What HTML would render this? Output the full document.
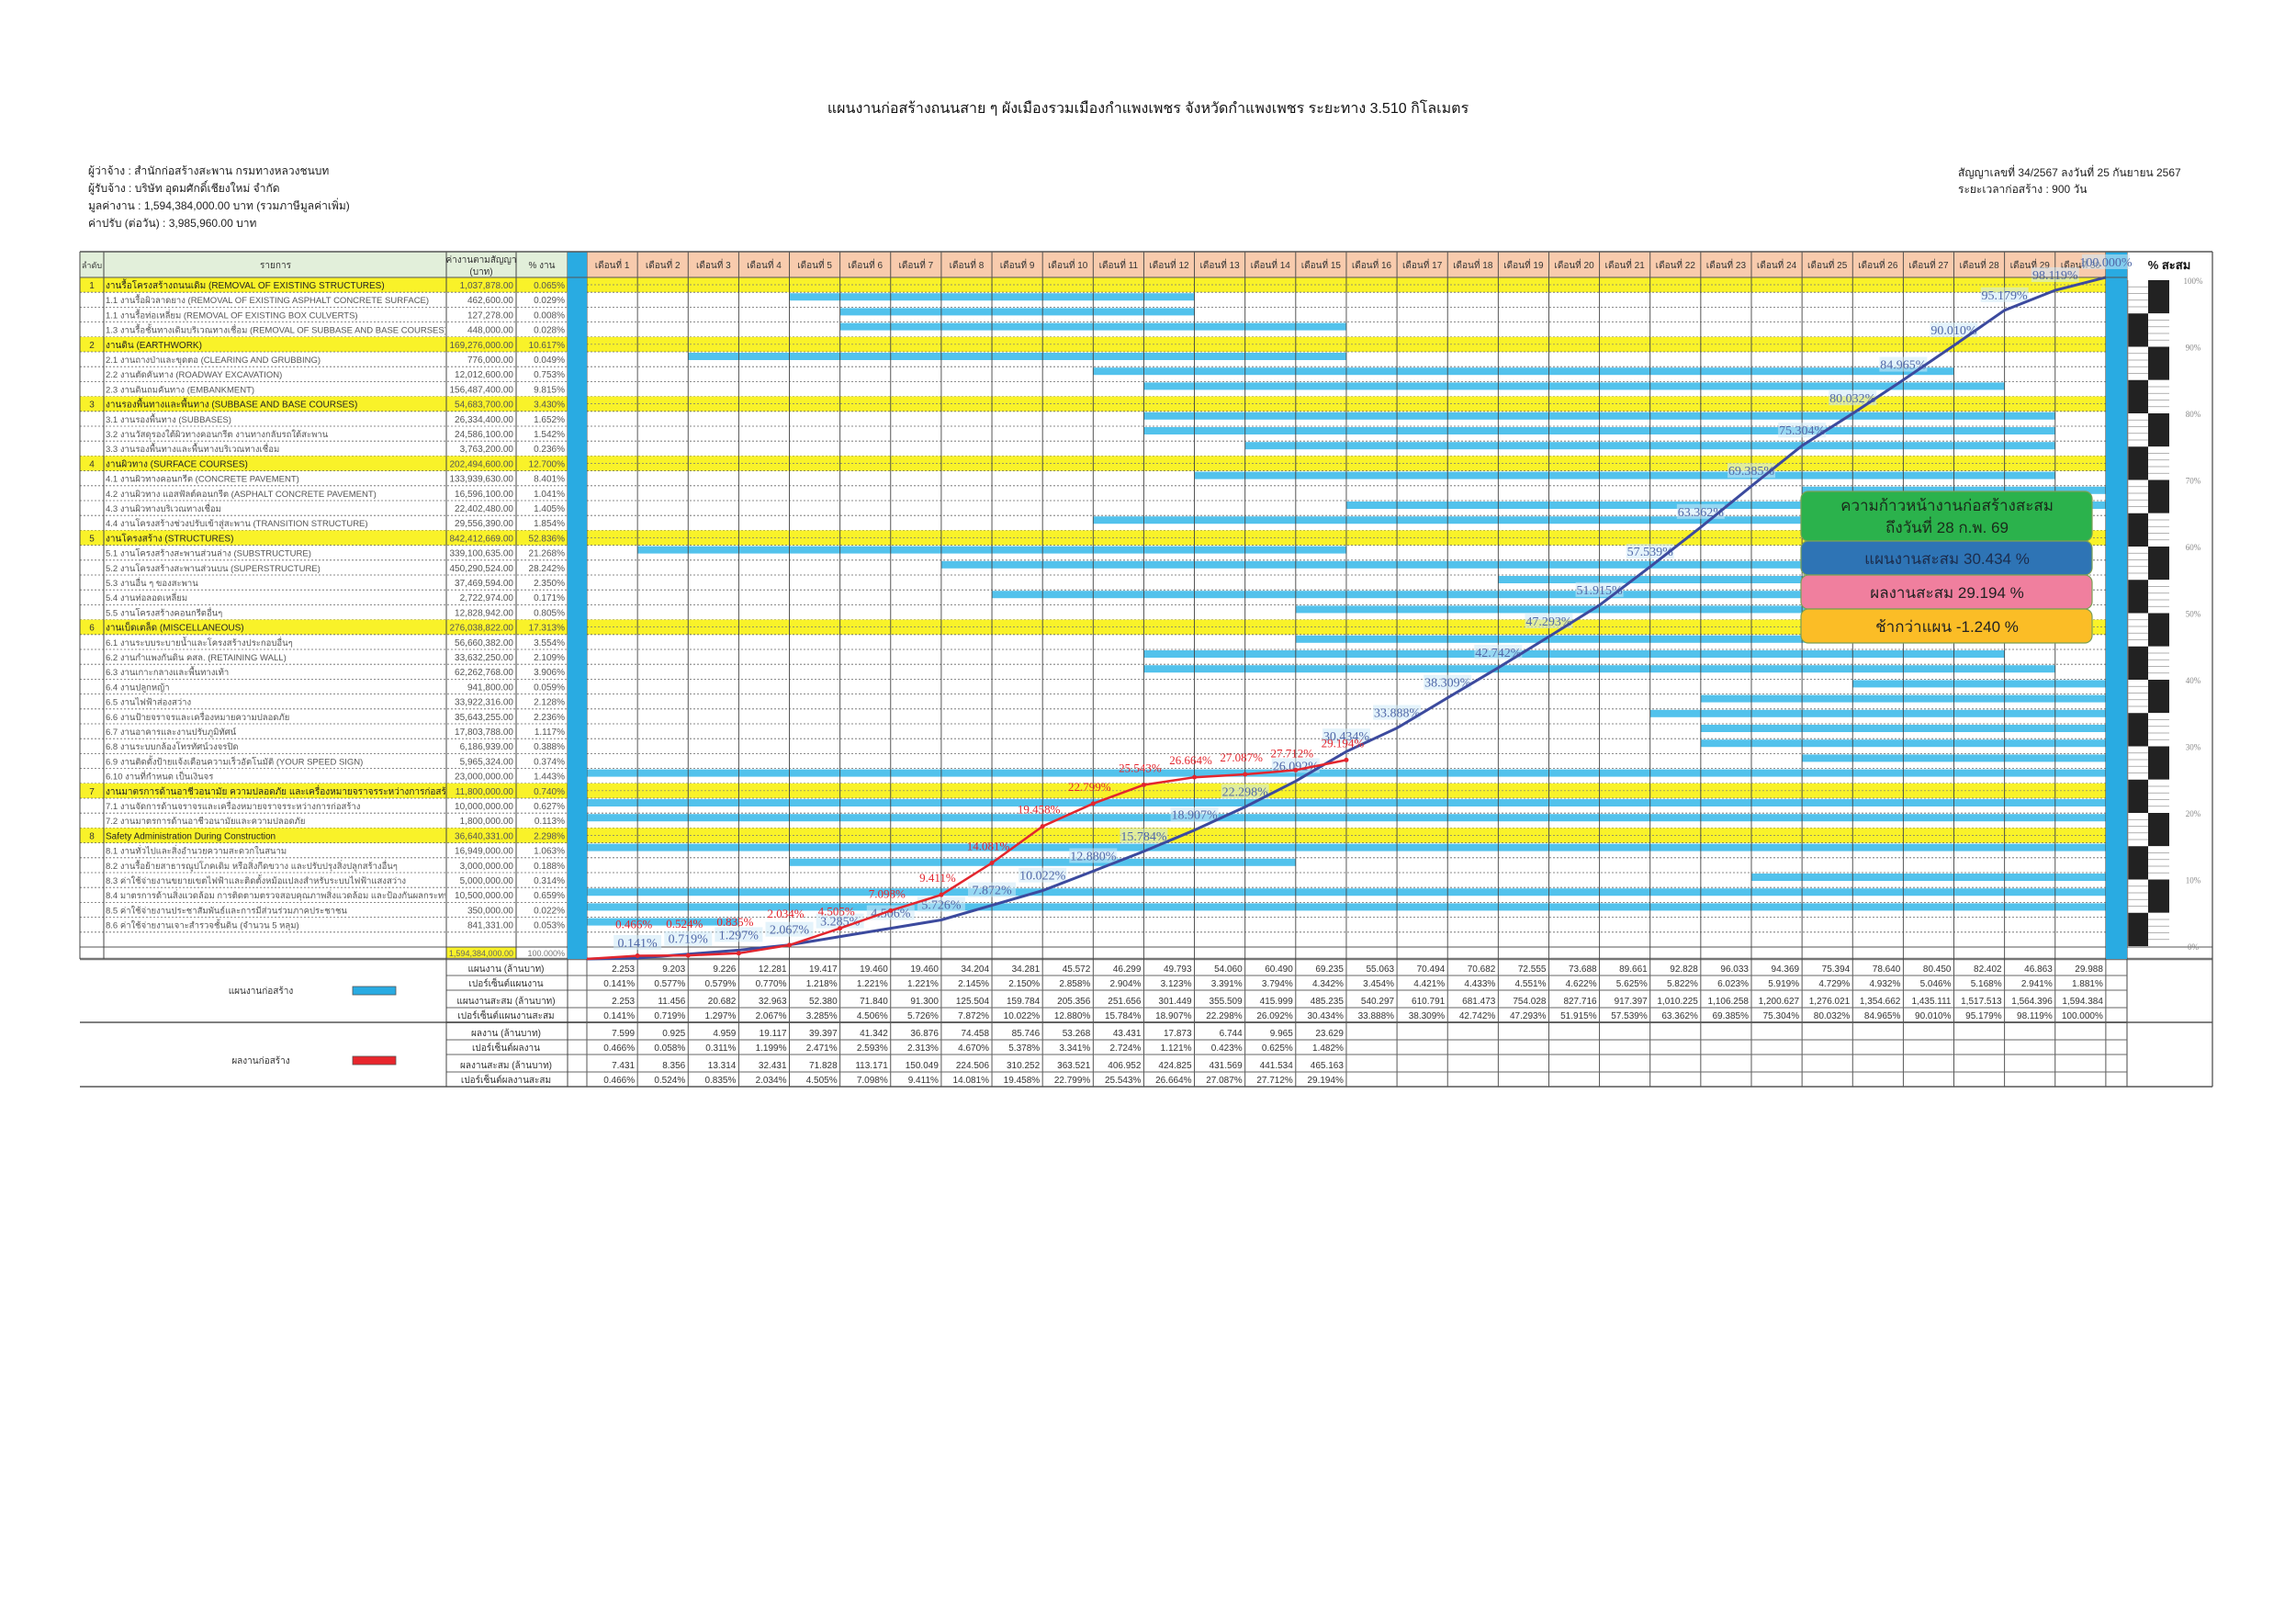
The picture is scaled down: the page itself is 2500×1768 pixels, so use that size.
<!DOCTYPE html>
<html><head><meta charset="utf-8">
<style>
html,body{margin:0;padding:0;background:#fff;}
#c{position:relative;width:2500px;height:1768px;overflow:hidden;background:#fff;font-family:"Liberation Sans","DejaVu Sans",sans-serif;}
.t{position:absolute;white-space:nowrap;color:#222;}
</style></head><body>
<div id="c">
<div class="t" style="left:0;width:2500px;text-align:center;top:106px;font-size:16px;color:#111">แผนงานก่อสร้างถนนสาย ๆ ผังเมืองรวมเมืองกำแพงเพชร จังหวัดกำแพงเพชร ระยะทาง 3.510 กิโลเมตร</div>
<div class="t" style="left:96px;top:177px;font-size:12px">ผู้ว่าจ้าง : สำนักก่อสร้างสะพาน กรมทางหลวงชนบท</div>
<div class="t" style="left:96px;top:196px;font-size:12px">ผู้รับจ้าง : บริษัท อุดมศักดิ์เชียงใหม่ จำกัด</div>
<div class="t" style="left:96px;top:215px;font-size:12px">มูลค่างาน : 1,594,384,000.00 บาท (รวมภาษีมูลค่าเพิ่ม)</div>
<div class="t" style="left:96px;top:234px;font-size:12px">ค่าปรับ (ต่อวัน) : 3,985,960.00 บาท</div>
<div class="t" style="left:2132px;top:179px;font-size:12px">สัญญาเลขที่ 34/2567 ลงวันที่ 25 กันยายน 2567</div>
<div class="t" style="left:2132px;top:197px;font-size:12px">ระยะเวลาก่อสร้าง  :  900 วัน</div>
<svg id="s" width="2500" height="1768" style="position:absolute;left:0;top:0" xmlns="http://www.w3.org/2000/svg"></svg>
</div>
<script>
var S=['<defs><clipPath id="cl"><rect x="113" y="270" width="372" height="800"/></clipPath></defs>'];
function R(x,y,w,h,f,ex){S.push('<rect x="'+x+'" y="'+y+'" width="'+w+'" height="'+h+'" fill="'+f+'" '+(ex||'')+'/>');}
function L(x1,y1,x2,y2,c,w,d){S.push('<line x1="'+x1+'" y1="'+y1+'" x2="'+x2+'" y2="'+y2+'" stroke="'+c+'" stroke-width="'+w+'" '+(d?'stroke-dasharray="'+d+'"':'')+'/>');}
function T(x,y,s,sz,a,c,ex){S.push('<text x="'+x+'" y="'+y+'" font-size="'+sz+'" text-anchor="'+(a||'start')+'" fill="'+(c||'#333')+'" '+(ex||'')+'>'+s+'</text>');}
var W=55.13,X0=639;function mx(k){return X0+W*k;}
var RH=16.2,Y0=302;function ry(i){return Y0+RH*i;}
var rows=[
[1,"1","งานรื้อโครงสร้างถนนเดิม (REMOVAL OF EXISTING STRUCTURES)","1,037,878.00","0.065%"],
[0,"","1.1 งานรื้อผิวลาดยาง (REMOVAL OF EXISTING ASPHALT CONCRETE SURFACE)","462,600.00","0.029%",5,12],
[0,"","1.1 งานรื้อท่อเหลี่ยม (REMOVAL OF EXISTING BOX CULVERTS)","127,278.00","0.008%",6,12],
[0,"","1.3 งานรื้อชั้นทางเดิมบริเวณทางเชื่อม (REMOVAL OF SUBBASE AND BASE COURSES)","448,000.00","0.028%",6,15],
[1,"2","งานดิน (EARTHWORK)","169,276,000.00","10.617%"],
[0,"","2.1 งานถางป่าและขุดตอ (CLEARING AND GRUBBING)","776,000.00","0.049%",3,15],
[0,"","2.2 งานตัดคันทาง (ROADWAY EXCAVATION)","12,012,600.00","0.753%",11,27],
[0,"","2.3 งานดินถมคันทาง (EMBANKMENT)","156,487,400.00","9.815%",12,28],
[1,"3","งานรองพื้นทางและพื้นทาง (SUBBASE AND BASE COURSES)","54,683,700.00","3.430%"],
[0,"","3.1 งานรองพื้นทาง (SUBBASES)","26,334,400.00","1.652%",12,29],
[0,"","3.2 งานวัสดุรองใต้ผิวทางคอนกรีต งานทางกลับรถใต้สะพาน","24,586,100.00","1.542%",12,29],
[0,"","3.3 งานรองพื้นทางและพื้นทางบริเวณทางเชื่อม","3,763,200.00","0.236%",14,29],
[1,"4","งานผิวทาง (SURFACE COURSES)","202,494,600.00","12.700%"],
[0,"","4.1 งานผิวทางคอนกรีต (CONCRETE PAVEMENT)","133,939,630.00","8.401%",13,29],
[0,"","4.2 งานผิวทาง แอสฟัลต์คอนกรีต (ASPHALT CONCRETE PAVEMENT)","16,596,100.00","1.041%",25,30],
[0,"","4.3 งานผิวทางบริเวณทางเชื่อม","22,402,480.00","1.405%",16,30],
[0,"","4.4 งานโครงสร้างช่วงปรับเข้าสู่สะพาน (TRANSITION STRUCTURE)","29,556,390.00","1.854%",11,28],
[1,"5","งานโครงสร้าง (STRUCTURES)","842,412,669.00","52.836%"],
[0,"","5.1 งานโครงสร้างสะพานส่วนล่าง (SUBSTRUCTURE)","339,100,635.00","21.268%",2,15],
[0,"","5.2 งานโครงสร้างสะพานส่วนบน (SUPERSTRUCTURE)","450,290,524.00","28.242%",8,28],
[0,"","5.3 งานอื่น ๆ ของสะพาน","37,469,594.00","2.350%",19,28],
[0,"","5.4 งานท่อลอดเหลี่ยม","2,722,974.00","0.171%",9,28],
[0,"","5.5 งานโครงสร้างคอนกรีตอื่นๆ","12,828,942.00","0.805%",15,28],
[1,"6","งานเบ็ดเตล็ด (MISCELLANEOUS)","276,038,822.00","17.313%"],
[0,"","6.1 งานระบบระบายน้ำและโครงสร้างประกอบอื่นๆ","56,660,382.00","3.554%",15,28],
[0,"","6.2 งานกำแพงกันดิน คสล. (RETAINING WALL)","33,632,250.00","2.109%",12,28],
[0,"","6.3 งานเกาะกลางและพื้นทางเท้า","62,262,768.00","3.906%",12,29],
[0,"","6.4 งานปลูกหญ้า","941,800.00","0.059%",26,30],
[0,"","6.5 งานไฟฟ้าส่องสว่าง","33,922,316.00","2.128%",23,30],
[0,"","6.6 งานป้ายจราจรและเครื่องหมายความปลอดภัย","35,643,255.00","2.236%",22,30],
[0,"","6.7 งานอาคารและงานปรับภูมิทัศน์","17,803,788.00","1.117%",23,30],
[0,"","6.8 งานระบบกล้องโทรทัศน์วงจรปิด","6,186,939.00","0.388%",23,30],
[0,"","6.9 งานติดตั้งป้ายแจ้งเตือนความเร็วอัตโนมัติ (YOUR SPEED SIGN)","5,965,324.00","0.374%",25,30],
[0,"","6.10 งานที่กำหนด เป็นเงินจร","23,000,000.00","1.443%",1,30],
[1,"7","งานมาตรการด้านอาชีวอนามัย ความปลอดภัย และเครื่องหมายจราจรระหว่างการก่อสร้าง","11,800,000.00","0.740%"],
[0,"","7.1 งานจัดการด้านจราจรและเครื่องหมายจราจรระหว่างการก่อสร้าง","10,000,000.00","0.627%",1,30],
[0,"","7.2 งานมาตรการด้านอาชีวอนามัยและความปลอดภัย","1,800,000.00","0.113%",1,30],
[1,"8","Safety Administration During Construction","36,640,331.00","2.298%"],
[0,"","8.1 งานทั่วไปและสิ่งอำนวยความสะดวกในสนาม","16,949,000.00","1.063%",1,30],
[0,"","8.2 งานรื้อย้ายสาธารณูปโภคเดิม หรือสิ่งกีดขวาง และปรับปรุงสิ่งปลูกสร้างอื่นๆ","3,000,000.00","0.188%",5,14],
[0,"","8.3 ค่าใช้จ่ายงานขยายเขตไฟฟ้าและติดตั้งหม้อแปลงสำหรับระบบไฟฟ้าแสงสว่าง","5,000,000.00","0.314%",24,30],
[0,"","8.4 มาตรการด้านสิ่งแวดล้อม การติดตามตรวจสอบคุณภาพสิ่งแวดล้อม และป้องกันผลกระทบในการก่อสร้าง","10,500,000.00","0.659%",1,30],
[0,"","8.5 ค่าใช้จ่ายงานประชาสัมพันธ์และการมีส่วนร่วมภาคประชาชน","350,000.00","0.022%",1,30],
[0,"","8.6 ค่าใช้จ่ายงานเจาะสำรวจชั้นดิน (จำนวน 5 หลุม)","841,331.00","0.053%",1,3],
[0,"","","",""]];
R(87,274,531,28,"#e2efda");R(639,274,1654,28,"#f8cbad");
T(100,292,"ลำดับ",9,"middle");T(300,292,"รายการ",10,"middle");
T(524,286,"ค่างานตามสัญญา",10,"middle");T(524,299,"(บาท)",10,"middle");T(590,292,"% งาน",10,"middle");
for(var k=1;k<=30;k++)T(mx(k-.5),292,"เดือนที่ "+k,10,"middle");
T(2362,293,"% สะสม",13,"middle","#111",'font-weight="bold"');
for(var i=0;i<rows.length;i++){var r=rows[i],y=ry(i);
 if(r[0]){R(87,y,531,RH,"#f9f229");R(639,y,1654,RH,"#f9f229");L(639,y+8,2293,y+8,"#777",0.7,"2,2");}
 if(r[5]){R(mx(r[5]-1),y+1,W*(r[6]-r[5]+1),8,"#52c2ec");}
 T(100,y+12,r[1],10,"middle");T(115,y+12,r[2],r[0]?10:9.5,"start",r[0]?"#222":"#555",'clip-path="url(#cl)"');
 T(559,y+12,r[3],10,"end","#555");T(615,y+12,r[4],10,"end","#555");
 L(87,y+RH,2293,y+RH,"#666",0.8,"2,2");}
var ty=ry(45);R(486,ty,76,13,"#f9f229");T(559,ty+10,"1,594,384,000.00",9,"end","#666");T(615,ty+10,"100.000%",9,"end","#777");
L(87,ty,2409,ty,"#555",1);L(87,1044,2409,1044,"#777",2.5);
var vx=[87,113,486,562,618];vx.forEach(function(x){L(x,274,x,1044,"#444",1);});
for(var k=0;k<=30;k++)L(mx(k),274,mx(k),1183,"#444",0.9);
L(2316,274,2316,1183,"#444",1);L(2409,274,2409,1183,"#444",1.2);
R(618,274,21,770,"#29abe2");R(2293,274,23,770,"#29abe2");
for(var j=0;j<20;j++){var yy=305+36.25*j;R(2317,yy,22,36.25,j%2?"#222":"#fff");R(2339,yy,23,36.25,j%2?"#fff":"#222");
 for(var q=1;q<5;q++){var ly=yy+q*7.25;if(j%2)L(2339,ly,2362,ly,"#999",0.8);else L(2317,ly,2339,ly,"#999",0.8);}}
L(2317,305,2317,1030,"#999",0.8);
for(var p=100;p>=0;p-=10)T(2388,305+(100-p)*7.25+4,p+"%",9,"middle","#888",'font-family="Liberation Serif"');
var by=[1044,1062,1078,1097,1113,1132,1148,1167,1183];
var bl=["แผนงาน (ล้านบาท)","เปอร์เซ็นต์แผนงาน","แผนงานสะสม (ล้านบาท)","เปอร์เซ็นต์แผนงานสะสม","ผลงาน (ล้านบาท)","เปอร์เซ็นต์ผลงาน","ผลงานสะสม (ล้านบาท)","เปอร์เซ็นต์ผลงานสะสม"];
var pv=[2.253,9.203,9.226,12.281,19.417,19.460,19.460,34.204,34.281,45.572,46.299,49.793,54.060,60.490,69.235,55.063,70.494,70.682,72.555,73.688,89.661,92.828,96.033,94.369,75.394,78.640,80.450,82.402,46.863,29.988];
var pp=[0.141,0.577,0.579,0.770,1.218,1.221,1.221,2.145,2.150,2.858,2.904,3.123,3.391,3.794,4.342,3.454,4.421,4.433,4.551,4.622,5.625,5.822,6.023,5.919,4.729,4.932,5.046,5.168,2.941,1.881];
var pc=["2.253","11.456","20.682","32.963","52.380","71.840","91.300","125.504","159.784","205.356","251.656","301.449","355.509","415.999","485.235","540.297","610.791","681.473","754.028","827.716","917.397","1,010.225","1,106.258","1,200.627","1,276.021","1,354.662","1,435.111","1,517.513","1,564.396","1,594.384"];
var pcp=[0.141,0.719,1.297,2.067,3.285,4.506,5.726,7.872,10.022,12.880,15.784,18.907,22.298,26.092,30.434,33.888,38.309,42.742,47.293,51.915,57.539,63.362,69.385,75.304,80.032,84.965,90.010,95.179,98.119,100.000];
var av=[7.599,0.925,4.959,19.117,39.397,41.342,36.876,74.458,85.746,53.268,43.431,17.873,6.744,9.965,23.629];
var ap=[0.466,0.058,0.311,1.199,2.471,2.593,2.313,4.670,5.378,3.341,2.724,1.121,0.423,0.625,1.482];
var ac=[7.431,8.356,13.314,32.431,71.828,113.171,150.049,224.506,310.252,363.521,406.952,424.825,431.569,441.534,465.163];
var acp=[0.466,0.524,0.835,2.034,4.505,7.098,9.411,14.081,19.458,22.799,25.543,26.664,27.087,27.712,29.194];
var data=[pv.map(function(v){return v.toFixed(3)}),pp.map(function(v){return v.toFixed(3)+"%"}),pc,pcp.map(function(v){return v.toFixed(3)+"%"}),
 av.map(function(v){return v.toFixed(3)}),ap.map(function(v){return v.toFixed(3)+"%"}),ac.map(function(v){return v.toFixed(3)}),acp.map(function(v){return v.toFixed(3)+"%"})];
for(var b=0;b<8;b++){var y1=by[b],y2=by[b+1];
 L(486,y2,2316,y2,"#666",b==3?1.8:0.9);
 T(551,y2-4,bl[b],10,"middle","#333");
 for(var k=0;k<data[b].length;k++)T(mx(k+1)-3,y2-4,data[b][k],10,"end","#333");}
L(87,1113,2409,1113,"#555",1.5);L(87,1183,2409,1183,"#555",1.5);
L(486,1044,486,1183,"#444",1);L(618,1044,618,1183,"#444",1);
T(284,1082,"แผนงานก่อสร้าง",10,"middle","#333");R(384,1074,47,9,"#29abe2",'stroke="#555" stroke-width="0.8"');
T(284,1158,"ผลงานก่อสร้าง",10,"middle","#333");R(384,1150,47,9,"#e8262c",'stroke="#555" stroke-width="0.8"');
function cy(p){return 1044-7.42*p;}
var pts="M"+mx(0)+","+cy(0);for(var k=0;k<30;k++)pts+=" L"+mx(k+1).toFixed(1)+","+cy(pcp[k]).toFixed(1);
var apts="M"+mx(0)+","+cy(0);for(var k=0;k<15;k++)apts+=" L"+mx(k+1).toFixed(1)+","+cy(acp[k]).toFixed(1);
for(var k=0;k<30;k++){var x=mx(k+1),y=cy(pcp[k])-12;R(x-26,y-13,52,16,"#cdeaf8",'opacity="0.55"');
 T(x,y,pcp[k].toFixed(3)+"%",14,"middle","#5068a8",'font-family="Liberation Serif"');}
S.push('<path d="'+pts+'" fill="none" stroke="#3c4a9e" stroke-width="3"/>');
S.push('<path d="'+apts+'" fill="none" stroke="#e3262e" stroke-width="2.5"/>');
for(var k=0;k<15;k++){var x=mx(k+1),y=cy(acp[k]);S.push('<circle cx="'+x+'" cy="'+y+'" r="2.5" fill="#e3262e"/>');
 T(x-4,y-(k<4?30:14),acp[k].toFixed(3)+"%",13,"middle","#e3262e",'font-family="Liberation Serif"');}
function box(y,h,f){R(1961,y,317,h,f,'rx="8" stroke="#7aa054" stroke-width="1.2"');}
box(535,54,"#2bb24c");box(589,37,"#2e74b5");box(626,37,"#f07f9e");box(663,37,"#fbbd26");
T(2120,556,"ความก้าวหน้างานก่อสร้างสะสม",17,"middle","#1a2a1a");T(2120,580,"ถึงวันที่ 28 ก.พ. 69",17,"middle","#1a2a1a");
T(2120,614,"แผนงานสะสม 30.434 %",17,"middle","#1c2c4c");T(2120,651,"ผลงานสะสม 29.194 %",17,"middle","#222");T(2120,688,"ช้ากว่าแผน  -1.240 %",17,"middle","#222");
L(87,274,2409,274,"#555",1.5);L(87,302,2316,302,"#555",1);
document.getElementById('s').innerHTML=S.join('');
</script>
</body></html>
